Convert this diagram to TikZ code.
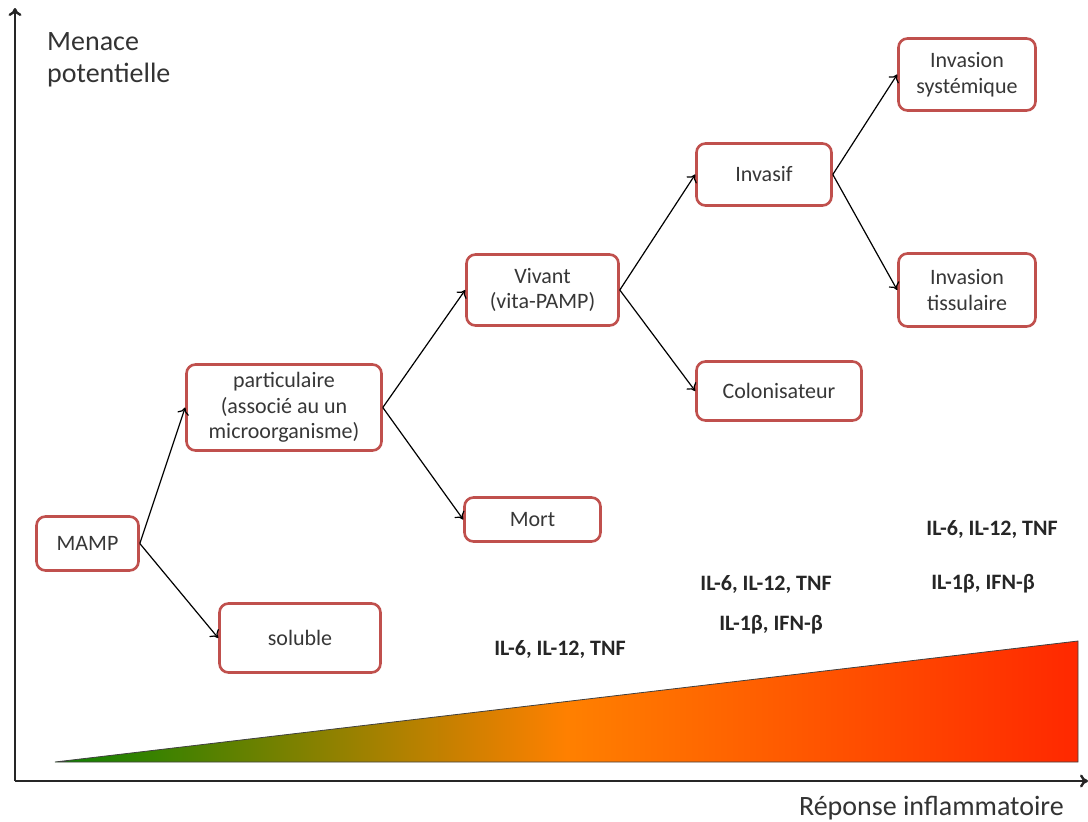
\documentclass[tikz,border=0pt]{standalone}
\usepackage{fontspec}
\setmainfont{Carlito}
\usetikzlibrary{arrows.meta}
\definecolor{boxred}{RGB}{192,80,77}
\definecolor{txtgray}{RGB}{55,55,55}
\definecolor{lowgreen}{RGB}{10,130,0}
\definecolor{midorange}{RGB}{255,128,0}
\definecolor{highred}{RGB}{255,40,0}

\begin{document}
\begin{tikzpicture}[x=1pt, y=-1pt,
  stage/.style={draw=boxred, line width=2.6pt, rounded corners=9pt, fill=white, text=txtgray,
    align=center, inner sep=0pt, font=\fontsize{22}{25.5}\selectfont},
  link/.style={-{To[length=7pt,width=12pt]}, line width=1.2pt},
  cyto/.style={font=\bfseries\fontsize{22}{26}\selectfont, text=black!85},
  axislabel/.style={text=black!80, inner sep=0pt, font=\fontsize{28}{32}\selectfont}]
  \useasboundingbox (0,0) rectangle (1088,822);
  % axes
  \coordinate (origin) at (15,781);
  \coordinate (ytop) at (15,8);
  \coordinate (xend) at (1088,781);
  \draw[-{To[length=8pt,width=13pt]}, line width=2.4pt, black!85] (origin) -- (ytop);
  \draw[-{To[length=8pt,width=13pt]}, line width=2.4pt, black!85] (origin) -- (xend);
  \node[axislabel, anchor=north west, align=left] (threat) at (47,32) {Menace\\potentielle};
  \node[axislabel, anchor=east] (response) at (1064,808) {Réponse inflammatoire};
  % inflammatory gradient
  \shade[left color=lowgreen, right color=highred, middle color=midorange]
    (55,762) -- (1078,641) -- (1078,762) -- cycle;
  \draw[line width=0.8pt, black!75] (55,762) -- (1078,641) -- (1078,762) -- cycle;
  % stages
  \node[stage, minimum width=102pt, minimum height=54pt] (mamp) at (87.5,543.5) {MAMP};
  \node[stage, minimum width=161pt, minimum height=69pt] (soluble) at (300,638) {soluble};
  \node[stage, minimum width=195pt, minimum height=86pt] (partic) at (284,407.5)
    {particulaire\\(associé au un\\microorganisme)};
  \node[stage, minimum width=136pt, minimum height=44pt] (mort) at (532.5,519.5) {Mort};
  \node[stage, minimum width=152pt, minimum height=71pt] (vivant) at (542.5,290) {Vivant\\(vita-PAMP)};
  \node[stage, minimum width=165pt, minimum height=59pt] (colon) at (779,391) {Colonisateur};
  \node[stage, minimum width=135pt, minimum height=62pt] (invasif) at (764,174.5) {Invasif};
  \node[stage, minimum width=137pt, minimum height=72pt] (systemic) at (967,74.5) {Invasion\\systémique};
  \node[stage, minimum width=137pt, minimum height=73pt] (tissue) at (967,290) {Invasion\\tissulaire};
  % branches
  \draw[link] (mamp.east) -- (partic.west);
  \draw[link] (mamp.east) -- (soluble.west);
  \draw[link] (partic.east) -- (vivant.west);
  \draw[link] (partic.east) -- (mort.west);
  \draw[link] (vivant.east) -- (invasif.west);
  \draw[link] (vivant.east) -- (colon.west);
  \draw[link] (invasif.east) -- (systemic.west);
  \draw[link] (invasif.east) -- (tissue.west);
  % cytokines
  \node[cyto] (cytoA) at (560,649) {IL-6, IL-12, TNF};
  \node[cyto] (cytoB) at (766,584) {IL-6, IL-12, TNF};
  \node[cyto] (cytoC) at (771,625) {IL-1β, IFN-β};
  \node[cyto] (cytoD) at (992,529) {IL-6, IL-12, TNF};
  \node[cyto] (cytoE) at (983,584) {IL-1β, IFN-β};
\end{tikzpicture}
\end{document}
